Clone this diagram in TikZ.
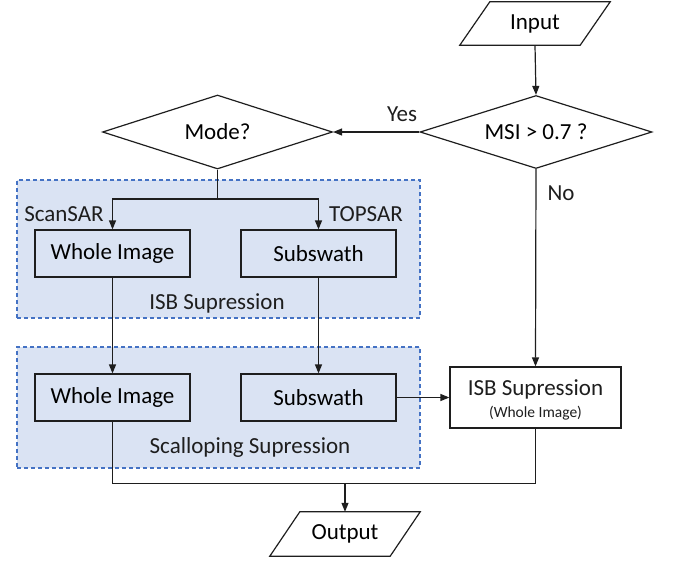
\documentclass[tikz,border=0pt]{standalone}
\usepackage{fontspec}
\setmainfont{Carlito}
\usetikzlibrary{shapes.geometric,arrows.meta}
\definecolor{grpfill}{HTML}{DAE3F3}
\definecolor{grpline}{HTML}{4472C4}
\definecolor{ink}{HTML}{1E1E1E}
\begin{document}
\begin{tikzpicture}[x=1pt,y=-1pt,
  font=\fontsize{23}{27}\selectfont,
  procbox/.style={draw=ink, line width=1.2pt, rectangle, inner sep=0pt},
  decision/.style={draw=ink, line width=1.2pt, diamond, aspect=2.5, inner sep=0pt},
  iobox/.style={rectangle, inner sep=0pt, minimum width=120, minimum height=43},
  group/.style={draw=grpline, line width=1.1pt, dash pattern=on 4pt off 3pt, fill=grpfill, rectangle, inner sep=0pt},
  conn/.style={draw=ink, line width=1.2pt},
  arr/.style={conn, -{Triangle[length=9pt,width=7pt]}},
  lbl/.style={inner sep=0pt, text=ink},
  small/.style={font=\fontsize{15.5}{18}\selectfont}]
\useasboundingbox (0,0) rectangle (673,563);

% groups
\node[group, minimum width=403, minimum height=138] (g1) at (218.5,249) {};
\node[group, minimum width=403, minimum height=121] (g2) at (218.5,407.5) {};
\node[lbl] (g1t) at (217,303) {ISB Supression};
\node[lbl] (g2t) at (250,447) {Scalloping Supression};

% input / output parallelograms
\node[iobox] (in) at (535,23.5) {Input};
\draw[conn] ([xshift=-15pt]in.south west) -- ([xshift=15pt]in.north west) -- ([xshift=15pt]in.north east) -- ([xshift=-15pt]in.south east) -- cycle;
\node[iobox, minimum height=44] (out) at (345,534) {Output};
\draw[conn] ([xshift=-15pt]out.south west) -- ([xshift=15pt]out.north west) -- ([xshift=15pt]out.north east) -- ([xshift=-15pt]out.south east) -- cycle;

% decisions
\node[decision, minimum width=232, minimum height=73] (msi) at (536,132) {MSI > 0.7 ?};
\node[decision, minimum width=230, minimum height=74] (mode) at (217.5,132) {Mode?};

% process boxes
\node[procbox, minimum width=155, minimum height=47] (wi1) at (112.5,253.5) {Whole Image};
\node[procbox, minimum width=155, minimum height=47] (sw1) at (318.5,253.5) {Subswath};
\node[procbox, minimum width=155, minimum height=47] (wi2) at (112.5,397.5) {Whole Image};
\node[procbox, minimum width=155, minimum height=47] (sw2) at (318.5,397.5) {Subswath};
\node[procbox, fill=white, minimum width=171, minimum height=61] (isb) at (535.5,397.5) {};
\node[lbl] (isbt1) at (535.5,389) {ISB Supression};
\node[lbl, small] (isbt2) at (535.5,413) {(Whole Image)};

% labels
\node[lbl] (yes) at (402,114) {Yes};
\node[lbl] (no) at (561,193) {No};
\node[lbl] (scan) at (64,214) {ScanSAR};
\node[lbl] (tops) at (366,214) {TOPSAR};

% connectors
\coordinate (j1) at (217.5,199);
\coordinate (j2) at (345,483.5);
\draw[arr] (in.south) -- (msi.north);
\draw[arr] (msi.west) -- (mode.east);
\draw[conn] (mode.south) -- (j1);
\draw[arr] (j1) -| (wi1.north);
\draw[arr] (j1) -| (sw1.north);
\draw[arr] (wi1.south) -- (wi2.north);
\draw[arr] (sw1.south) -- (sw2.north);
\draw[arr] (msi.south) -- (isb.north);
\draw[arr] (sw2.east) -- (isb.west);
\draw[conn] (wi2.south) |- (j2);
\draw[conn] (isb.south) |- (j2);
\draw[arr] (j2) -- (out.north);
\end{tikzpicture}
\end{document}
